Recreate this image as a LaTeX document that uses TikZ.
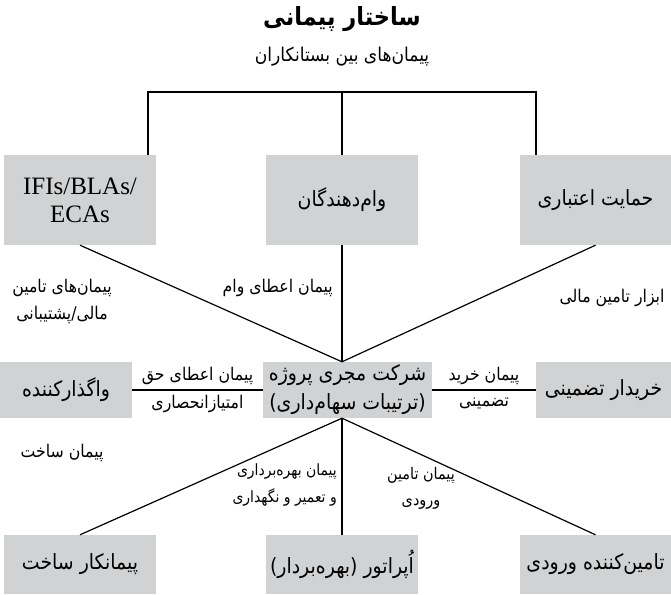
\documentclass[tikz,border=0pt]{standalone}
\usepackage{fontspec}
\TeXXeTstate=1
\newfontfamily\farsi[Script=Arabic, FakeStretch=0.9]{DejaVu Sans}
\newfontfamily\latinserif{Liberation Serif}
\newcommand{\fa}[1]{{\farsi\beginR #1\endR}}
\definecolor{boxgray}{HTML}{D1D2D4}

\begin{document}
\begin{tikzpicture}[x=1pt,y=-1pt,
  block/.style={fill=boxgray, draw=none, inner sep=0pt, align=center,
    font=\farsi\fontsize{21}{29}\selectfont},
  tag/.style={inner sep=0pt, align=center,
    font=\farsi\fontsize{17.5}{27}\selectfont},
  link/.style={line width=1.2pt, draw=black}]
\useasboundingbox (0,0) rectangle (671,594);

% headings
\node[font=\farsi\bfseries\fontsize{25}{29}\selectfont] (title) at (342,19) {\fa{ساختار پیمانی}};
\node[tag, font=\farsi\fontsize{19}{27}\selectfont] (subtitle) at (342,57) {\fa{پیمان‌های بین بستانکاران}};

% top row: finance providers
\node[block, minimum width=152pt, minimum height=90pt,
      font=\latinserif\fontsize{25}{28}\selectfont] (ifi) at (80,200) {IFIs/BLAs/\\ECAs};
\node[block, minimum width=152pt, minimum height=90pt] (lend) at (342,200) {\fa{وام‌دهندگان}};
\node[block, minimum width=151pt, minimum height=90pt] (credit) at (595.5,200) {\fa{حمایت اعتباری}};

% middle row: project company and its direct partners
\node[block, minimum width=132pt, minimum height=56pt] (grantor) at (66,390) {\fa{واگذارکننده}};
\node[block, minimum width=169pt, minimum height=56pt] (spv) at (347.5,390)
  {\fa{شرکت مجری پروژه}\\\fa{(ترتیبات سهام‌داری)}};
\node[block, minimum width=135pt, minimum height=56pt] (offtaker) at (603.5,390) {\fa{خریدار تضمینی}};

% bottom row: contractors
\node[block, minimum width=152pt, minimum height=59pt] (build) at (80,564.5) {\fa{پیمانکار ساخت}};
\node[block, minimum width=152pt, minimum height=59pt] (oper) at (342,564.5) {\fa{اُپراتور (بهره‌بردار)}};
\node[block, minimum width=151pt, minimum height=59pt] (supp) at (595.5,564.5) {\fa{تامین‌کننده ورودی}};

% inter-creditor bracket
\coordinate (bl) at (148,92);
\coordinate (br) at (536,92);
\draw[link] (ifi.north -| bl) -- (bl) -- (br) -- (credit.north -| br);
\draw[link] (lend.north) -- (lend.north |- bl);

% convergence points on the project company
\coordinate (top) at (lend.south |- spv.north);
\coordinate (bot) at (lend.south |- spv.south);
\draw[link] (ifi.south) -- (top) -- (credit.south);
\draw[link] (lend.south) -- (top);
\draw[link] (build.north) -- (bot) -- (supp.north);
\draw[link] (bot) -- (oper.north);

% side agreements on the middle row
\draw[link] (grantor.east) -- (spv.west);
\draw[link] (spv.east) -- (offtaker.west);

% agreement labels
\node[tag] (finsup) at (62,301) {\fa{پیمان‌های تامین}\\\fa{مالی/پشتیبانی}};
\node[tag, anchor=east] (loanag) at (333,288) {\fa{پیمان اعطای وام}};
\node[tag] (finins) at (612,298) {\fa{ابزار تامین مالی}};
\node[tag] (conc1) at (197.5,376) {\fa{پیمان اعطای حق}};
\node[tag] (conc2) at (197.5,404) {\fa{امتیازانحصاری}};
\node[tag] (off1) at (484,376) {\fa{پیمان خرید}};
\node[tag] (off2) at (484,404) {\fa{تضمینی}};
\node[tag] (buildag) at (62,453) {\fa{پیمان ساخت}};
\node[tag, anchor=east, align=right, font=\farsi\fontsize{15.5}{27}\selectfont] (omag) at (337,485)
  {\fa{پیمان بهره‌برداری}\\\fa{و تعمیر و نگهداری}};
\node[tag, font=\farsi\fontsize{16}{26}\selectfont] (suppag) at (421,488) {\fa{پیمان تامین}\\\fa{ورودی}};
\end{tikzpicture}
\end{document}
